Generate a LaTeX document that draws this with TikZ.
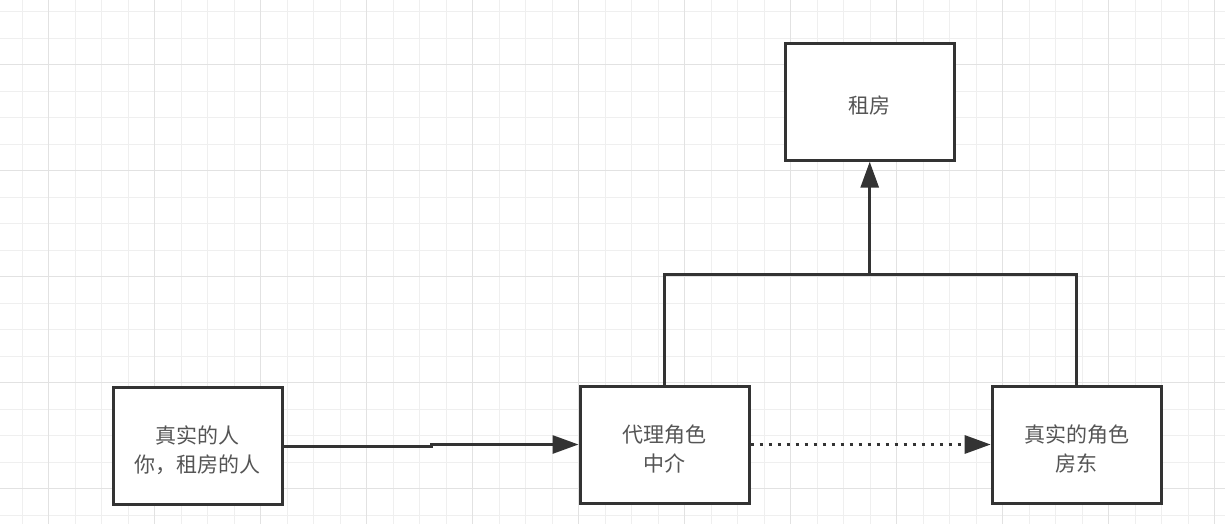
\documentclass[tikz,border=0pt]{standalone}
\usepackage{fontspec}
\usepackage{xcolor}
\usetikzlibrary{arrows.meta}
\newfontfamily\cjk{Noto Sans CJK SC}
\newcommand\rolestrut{\rule{0pt}{26pt}}
\definecolor{inkline}{HTML}{333333}
\definecolor{inktext}{HTML}{555555}
\definecolor{gridminor}{HTML}{EFEFEF}
\definecolor{gridmajor}{HTML}{E2E2E2}
\tikzset{
  role/.style={draw=inkline, line width=3pt, fill=white, minimum width=169pt, minimum height=117pt,
    align=center, text=inktext, font=\cjk\fontsize{21}{29}\selectfont},
  link/.style={draw=inkline, line width=3pt},
  arr/.style={link, -{Triangle[length=26pt,width=18pt]}},
}
\begin{document}
\begin{tikzpicture}[x=1pt,y=-1pt]%,>=latex]
\useasboundingbox (0,0) rectangle (1225,524);
\fill[white] (0,0) rectangle (1225,524);
\foreach \i in {0,...,46} \draw[gridminor, line width=1pt] ({-4.5+26.5*\i},0) -- ++(0,524);
\foreach \i in {0,...,19} \draw[gridminor, line width=1pt] (0,{11.7+26.5*\i}) -- ++(1225,0);
\foreach \i in {0,...,11} \draw[gridmajor, line width=1pt] ({48.7+106*\i},0) -- ++(0,524);
\foreach \i in {0,...,4} \draw[gridmajor, line width=1pt] (0,{64.3+106*\i}) -- ++(1225,0);
\node[role] (rent) at (869.7,101.7) {\rolestrut 租房};
\node[role] (real) at (197.5,446.3) {\rolestrut 真实的人\\你，租房的人};
\node[role] (agent) at (664.5,444.5) {\rolestrut 代理角色\\中介};
\node[role] (host) at (1076.7,444.5) {\rolestrut 真实的角色\\房东};
\coordinate (fork) at (869.7,274);
\draw[link] (agent.north) |- (fork) -| (host.north);
\draw[arr] (fork) -- (rent.south);
\draw[arr] (real.east) -- ++(148,0) |- (agent.west);
\draw[arr, dash pattern=on 3pt off 6pt] (agent.east) -- (host.west);
\end{tikzpicture}
\end{document}
